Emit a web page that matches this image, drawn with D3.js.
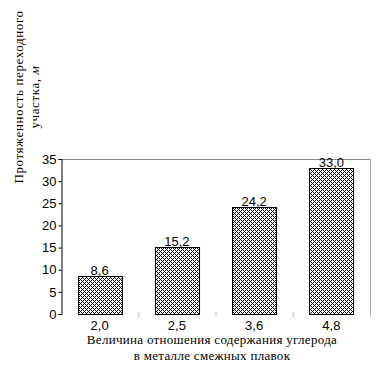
<!DOCTYPE html>
<html><head><meta charset="utf-8">
<script src="https://cdn.jsdelivr.net/npm/d3@7"></script>
<style>body{margin:0;background:#fff}svg{display:block}</style>
</head><body><div id="c"></div>
<script>
const categories = ["2,0","2,5","3,6","4,8"];
const values = [8.6, 15.2, 24.2, 33.0];
const valueLabels = ["8,6","15,2","24,2","33,0"];
const yTicks = [0,5,10,15,20,25,30,35];
const yTitle = ["Протяженность переходного", "участка, "];
const yUnit = "м";
const xTitle = ["Величина отношения содержания углерода", "в металле смежных плавок"];

(function(){
const W = 382, H = 369;
const SERIF = "'Liberation Serif', 'Times New Roman', Times, serif";
const SANS = "'Liberation Sans', Arial, sans-serif";
const svg = d3.select("#c").append("svg").attr("width", W).attr("height", H);
const defs = svg.append("defs");
const pat = defs.append("pattern").attr("id","hatch").attr("patternUnits","userSpaceOnUse")
  .attr("width",4).attr("height",4);
pat.append("rect").attr("width",4).attr("height",4).attr("fill","#fff");
[[0,3],[1,2],[2,1],[3,0],[1,0],[3,2]].forEach(([px,py])=>pat.append("rect").attr("x",px).attr("y",py).attr("width",1).attr("height",1).attr("fill","#000"));

const pL = 61, pR = 370, pT = 159, pB = 314;
const x = d3.scaleBand().domain(categories).range([pL, pR]).paddingInner(0.43).paddingOuter(0.215);
const y = d3.scaleLinear().domain([0,35]).range([pB, pT]);

// frame
svg.append("line").attr("x1",pL).attr("x2",pR).attr("y1",pT+0.5).attr("y2",pT+0.5).attr("stroke","#888");
svg.append("line").attr("x1",pR+0.5).attr("x2",pR+0.5).attr("y1",pT).attr("y2",pB+2).attr("stroke","#aaa");

// bottom tick marks at band boundaries
const bw = (pR-pL)/categories.length;
d3.range(1,categories.length+1).forEach(i=>{
  svg.append("line").attr("x1",pL+bw*i+0.5).attr("x2",pL+bw*i+0.5).attr("y1",pB-2).attr("y2",pB+3).attr("stroke","#bbb");
});

// bars
svg.selectAll("rect.bar").data(values).enter().append("rect").attr("class","bar")
  .attr("x",(d,i)=>Math.round(x(categories[i]))+0.5)
  .attr("y",d=>Math.round(y(d))+0.5)
  .attr("width",x.bandwidth())
  .attr("height",d=>pB-Math.round(y(d)))
  .attr("fill","url(#hatch)").attr("stroke","#000").attr("stroke-width",1);

svg.selectAll("text.vl").data(values).enter().append("text").attr("class","vl")
  .attr("x",(d,i)=>x(categories[i])+x.bandwidth()/2)
  .attr("y",d=>y(d)-1)
  .attr("text-anchor","middle").attr("font-size",13).attr("font-family",SANS)
  .text((d,i)=>valueLabels[i]);

// y axis
const ya = svg.append("g").attr("transform",`translate(${pL+0.5},0)`)
  .call(d3.axisLeft(y).tickValues(yTicks).tickSize(3).tickPadding(2).tickFormat(d3.format("d")));
ya.select(".domain").attr("stroke","#000");
ya.selectAll("text").attr("font-size",13).attr("font-family",SANS);

// x labels
svg.selectAll("text.xl").data(categories).enter().append("text").attr("class","xl")
  .attr("x",d=>x(d)+x.bandwidth()/2).attr("y",pB+16)
  .attr("text-anchor","middle").attr("font-size",13).attr("font-family",SANS).text(d=>d);

// x title
xTitle.forEach((t,i)=>svg.append("text").attr("x",212).attr("y",344+i*16)
  .attr("text-anchor","middle").attr("font-size",13).attr("font-family",SERIF).attr("letter-spacing",0.3).text(t));

// y title
const yt = svg.append("g").attr("transform","translate(0,97) rotate(-90)");
yt.append("text").attr("x",0).attr("y",23).attr("text-anchor","middle").attr("font-size",13).attr("font-family",SERIF).attr("letter-spacing",0.6).text(yTitle[0]);
const t2 = yt.append("text").attr("x",0).attr("y",39).attr("text-anchor","middle").attr("font-size",13).attr("font-family",SERIF).attr("letter-spacing",0.6);
t2.append("tspan").text(yTitle[1]);
t2.append("tspan").attr("font-style","italic").text(yUnit);
})();
</script></body></html>
